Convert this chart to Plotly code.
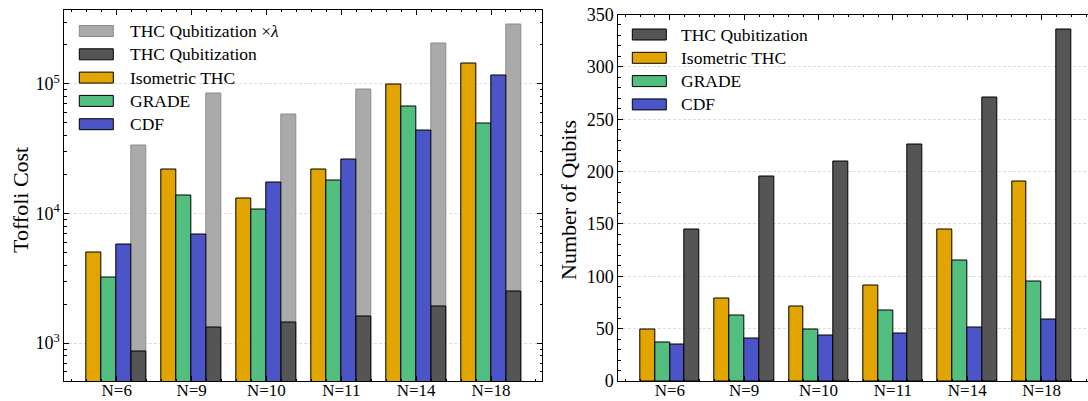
import plotly.graph_objects as go

# ---- data -------------------------------------------------------------
systems = ["N=6", "N=9", "N=10", "N=11", "N=14", "N=18"]

toffoli_thc_lambda = [33200, 84000, 57800, 90800, 206000, 287000]
toffoli_thc = [860, 1310, 1450, 1600, 1910, 2500]
toffoli_iso = [5000, 21900, 13100, 21800, 99300, 143000]
toffoli_grade = [3230, 13800, 10700, 18100, 66700, 49200]
toffoli_cdf = [5750, 6900, 17300, 26200, 43500, 116600]

qubits_thc = [145, 195, 210, 226, 271, 336]
qubits_iso = [49, 79, 71, 91, 145, 191]
qubits_grade = [37, 63, 49, 67, 115, 95]
qubits_cdf = [35, 41, 43, 45, 51, 59]

# ---- style ------------------------------------------------------------
W, H = 1088, 401
FONT = "Liberation Serif"
C_ISO = "#E2A400"
C_GRADE = "#52BE80"
C_CDF = "#4B55C8"
C_THC = "#555555"
C_LAM = "#AAAAAA"
C_LAM_EDGE = "#8A8A8A"
BW = 0.2
GRID = dict(showgrid=True, gridcolor="#DDDDDD", gridwidth=0.7,
            griddash="3px,2px")

xs = list(range(len(systems)))


def px(x):
    return x / W


def py(y):
    return 1 - y / H


def bar(y, color, offset, xa, ya, edge="black"):
    return go.Bar(
        x=xs, y=y, width=BW, offset=offset,
        marker=dict(color=color, line=dict(color=edge, width=1)),
        xaxis=xa, yaxis=ya, showlegend=False, hoverinfo="x+y",
    )


fig = go.Figure()

# left panel: Toffoli cost (log scale)
fig.add_trace(bar(toffoli_thc_lambda, C_LAM, 0.2, "x", "y", edge=C_LAM_EDGE))
fig.add_trace(bar(toffoli_thc, C_THC, 0.2, "x", "y"))
fig.add_trace(bar(toffoli_iso, C_ISO, -0.4, "x", "y"))
fig.add_trace(bar(toffoli_grade, C_GRADE, -0.2, "x", "y"))
fig.add_trace(bar(toffoli_cdf, C_CDF, 0.0, "x", "y"))

# right panel: qubit counts
fig.add_trace(bar(qubits_iso, C_ISO, -0.4, "x2", "y2"))
fig.add_trace(bar(qubits_grade, C_GRADE, -0.2, "x2", "y2"))
fig.add_trace(bar(qubits_cdf, C_CDF, 0.0, "x2", "y2"))
fig.add_trace(bar(qubits_thc, C_THC, 0.2, "x2", "y2"))

tickfont = dict(family=FONT, size=18, color="black")
xtickfont = dict(family=FONT, size=17, color="black")

xcommon = dict(
    tickmode="array", tickvals=xs, ticktext=systems,
    ticks="inside", ticklen=5, tickwidth=0.8, tickcolor="black",
    ticklabelstandoff=-6,
    minor=dict(tickmode="linear", tick0=0, dtick=0.2, ticks="inside",
               ticklen=2.5, tickwidth=0.6, tickcolor="black", showgrid=False),
    showline=True, linecolor="black", linewidth=1, mirror="allticks",
    showgrid=False, zeroline=False, tickfont=xtickfont, automargin=False,
)

fig.update_layout(
    width=W, height=H,
    margin=dict(l=0, r=0, t=0, b=0),
    paper_bgcolor="white", plot_bgcolor="white",
    barmode="overlay", bargap=0,
    font=dict(family=FONT, color="black"),
    xaxis=dict(domain=[px(64.3), px(542.3)], range=[-0.70, 5.685],
               anchor="y", **xcommon),
    yaxis=dict(
        domain=[py(381), py(9.5)], type="log", range=[2.708, 5.574],
        anchor="x",
        tickmode="array", tickvals=[1e3, 1e4, 1e5],
        ticktext=["10<sup>3</sup>", "10<sup>4</sup>", "10<sup>5</sup>"],
        ticks="inside", ticklen=5, tickwidth=0.8, tickcolor="black",
        minor=dict(dtick="D1", ticks="inside", ticklen=2.5, tickwidth=0.6,
                   tickcolor="black", showgrid=False),
        showline=True, linecolor="black", linewidth=1, mirror="allticks",
        zeroline=False, tickfont=tickfont, automargin=False, **GRID,
    ),
    xaxis2=dict(domain=[px(618.3), 1.0], range=[-0.693, 5.624],
                anchor="y2", **xcommon),
    yaxis2=dict(
        domain=[py(381), py(14.5)], range=[0, 350], anchor="x2",
        tickmode="linear", tick0=0, dtick=50,
        ticks="inside", ticklen=5, tickwidth=0.8, tickcolor="black",
        minor=dict(tickmode="linear", tick0=0, dtick=10, ticks="inside",
                   ticklen=2.5, tickwidth=0.6, tickcolor="black",
                   showgrid=False),
        showline=True, linecolor="black", linewidth=1, mirror=False,
        zeroline=False, tickfont=tickfont, automargin=False, **GRID,
    ),
)

# axis titles
fig.add_annotation(text="Toffoli Cost", x=px(20), y=py(200), xref="paper",
                   yref="paper", textangle=-90, showarrow=False,
                   xanchor="center", yanchor="middle",
                   font=dict(family=FONT, size=22, color="black"))
fig.add_annotation(text="Number of Qubits", x=px(568), y=py(200), xref="paper",
                   yref="paper", textangle=-90, showarrow=False,
                   xanchor="center", yanchor="middle",
                   font=dict(family=FONT, size=22, color="black"))

# legends drawn as patch + label rows
legend_left = [
    ("THC Qubitization ×<i>λ</i>", C_LAM, C_LAM_EDGE),
    ("THC Qubitization", C_THC, "black"),
    ("Isometric THC", C_ISO, "black"),
    ("GRADE", C_GRADE, "black"),
    ("CDF", C_CDF, "black"),
]
legend_right = [
    ("THC Qubitization", C_THC, "black"),
    ("Isometric THC", C_ISO, "black"),
    ("GRADE", C_GRADE, "black"),
    ("CDF", C_CDF, "black"),
]


def draw_legend(items, x0, y0, text_x):
    for i, (label, fill, edge) in enumerate(items):
        yc = y0 + i * 23.3
        fig.add_shape(type="rect", xref="paper", yref="paper",
                      x0=px(x0), x1=px(x0 + 34), y0=py(yc + 5.5),
                      y1=py(yc - 5.5), fillcolor=fill,
                      line=dict(color=edge, width=1))
        fig.add_annotation(text=label, x=px(text_x), y=py(yc), xref="paper",
                           yref="paper", showarrow=False, xanchor="left",
                           yanchor="middle",
                           font=dict(family=FONT, size=17.5, color="black"))


draw_legend(legend_left, 79.3, 31, 127.7)
draw_legend(legend_right, 632.3, 34.5, 679.3)

fig.write_html("out.html")
